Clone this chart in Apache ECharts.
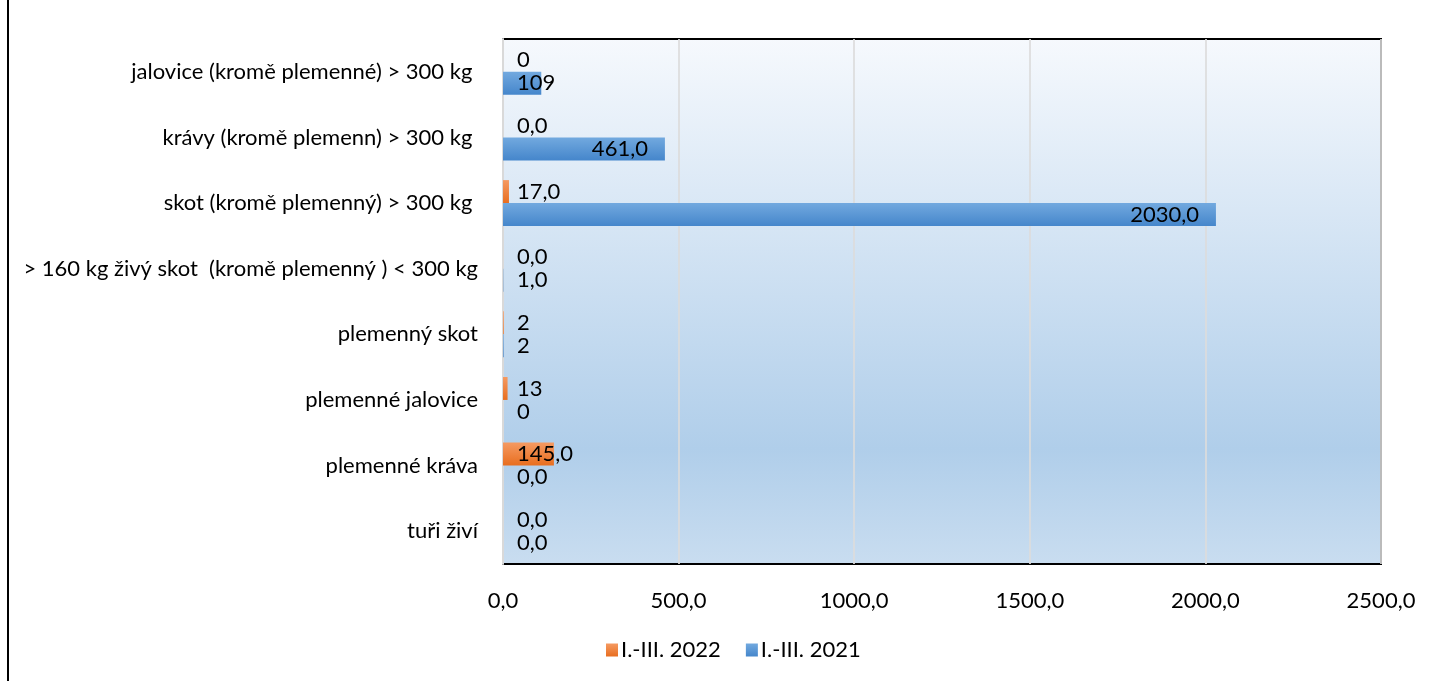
<!DOCTYPE html>
<html>
<head>
<meta charset="utf-8">
<script src="https://cdn.jsdelivr.net/npm/echarts@6/dist/echarts.min.js"></script>
<style>
html,body{margin:0;padding:0;background:#fff;}
#chart{width:1434px;height:681px;}
</style>
</head>
<body>
<div id="chart"></div>
<script>
// Categories listed top to bottom
var categories = [
  'jalovice (kromě plemenné) > 300 kg ',
  'krávy (kromě plemenn) > 300 kg ',
  'skot (kromě plemenný) > 300 kg ',
  '> 160 kg živý skot  (kromě plemenný ) < 300 kg',
  'plemenný skot',
  'plemenné jalovice',
  'plemenné kráva',
  'tuři živí'
];
var series2022Name = 'I.-III. 2022';
var series2021Name = 'I.-III. 2021';
var values2022 = [0, 0, 17, 0, 2, 13, 145, 0];
var values2021 = [109, 461, 2030, 1, 2, 0, 0, 0];
// decimals shown in the data labels of each category
var labelDecimals = [0, 1, 1, 1, 0, 0, 1, 1];
var xTicks = { min: 0, max: 2500, interval: 500 };

var FONT = 'Lato';
var FS = 22;

function fmt(v, d) {
  return v.toFixed(d).replace('.', ',');
}

function buildData(vals) {
  return vals.map(function (v, i) {
    var big = v > 300;
    return {
      value: v,
      label: {
        position: big ? 'insideRight' : 'insideLeft',
        distance: big ? 17 : 14,
        formatter: fmt(v, labelDecimals[i])
      }
    };
  });
}

var orangeGrad = new echarts.graphic.LinearGradient(0, 0, 0, 1, [
  { offset: 0, color: '#F59A62' },
  { offset: 1, color: '#E86E1F' }
]);
var blueGrad = new echarts.graphic.LinearGradient(0, 0, 0, 1, [
  { offset: 0, color: '#72A9DF' },
  { offset: 1, color: '#4586CB' }
]);

var labelCommon = {
  show: true,
  color: '#000',
  fontFamily: FONT,
  fontSize: FS
};

var chart = echarts.init(document.getElementById('chart'), null, { renderer: 'canvas' });
chart.setOption({
  animation: false,
  textStyle: { fontFamily: FONT },
  graphic: [{
    type: 'line',
    shape: { x1: 8, y1: 0, x2: 8, y2: 681 },
    style: { stroke: '#000', lineWidth: 2 }
  }],
  grid: {
    left: 503, right: 53, top: 39, bottom: 117,
    show: true,
    borderColor: '#000',
    borderWidth: 2,
    backgroundColor: new echarts.graphic.LinearGradient(0, 0, 0, 1, [
      { offset: 0, color: '#F6F9FD' },
      { offset: 0.78, color: '#B0CEEA' },
      { offset: 1, color: '#C9DDF0' }
    ])
  },
  legend: {
    data: [series2022Name, series2021Name],
    left: 601, top: 634,
    itemWidth: 12, itemHeight: 13, itemGap: 25,
    icon: 'rect',
    textStyle: { fontFamily: FONT, fontSize: FS, color: '#000', padding: [0,0,0,-2] }
  },
  xAxis: {
    type: 'value',
    min: xTicks.min, max: xTicks.max, interval: xTicks.interval,
    axisLine: { show: false },
    axisTick: { show: false },
    splitLine: { show: true, lineStyle: { color: 'rgba(220,220,220,0.85)', width: 2 } },
    axisLabel: {
      margin: 26,
      color: '#000', fontFamily: FONT, fontSize: FS,
      formatter: function (v) { return fmt(v, 1); }
    }
  },
  yAxis: {
    type: 'category',
    inverse: true,
    data: categories,
    axisLine: { show: true, lineStyle: { color: '#D9D9D9', width: 2 } },
    axisTick: { show: false },
    axisLabel: { margin: 25, color: '#000', fontFamily: FONT, fontSize: FS }
  },
  series: [
    {
      name: series2022Name,
      type: 'bar',
      data: buildData(values2022),
      barGap: '0%',
      barCategoryGap: '30%',
      itemStyle: { color: orangeGrad },
      label: labelCommon
    },
    {
      name: series2021Name,
      type: 'bar',
      data: buildData(values2021),
      barGap: '0%',
      barCategoryGap: '30%',
      itemStyle: { color: blueGrad },
      label: labelCommon
    }
  ]
});
</script>
</body>
</html>
